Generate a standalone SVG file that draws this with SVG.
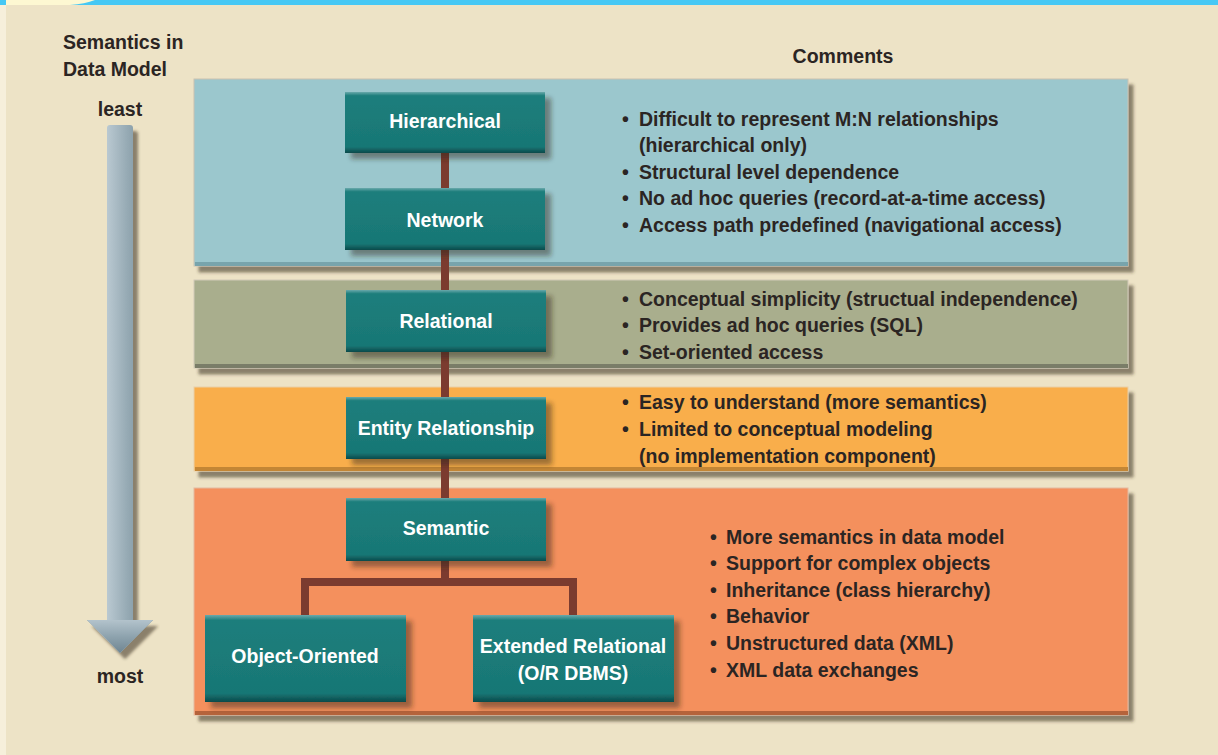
<svg xmlns="http://www.w3.org/2000/svg" width="1218" height="755" viewBox="0 0 1218 755">
  <defs>
    <filter id="shadow" x="-5%" y="-5%" width="115%" height="125%">
      <feDropShadow dx="5" dy="6" stdDeviation="1.8" flood-color="#3a3020" flood-opacity="0.55"/>
    </filter>
    <filter id="nodeShadow" x="-10%" y="-10%" width="125%" height="140%">
      <feDropShadow dx="6" dy="6" stdDeviation="2.5" flood-color="#2a2015" flood-opacity="0.45"/>
    </filter>
    <linearGradient id="nodeFill" x1="0" y1="0" x2="0" y2="1">
      <stop offset="0" stop-color="#6aa9ab"/>
      <stop offset="0.06" stop-color="#1d7e7c"/>
      <stop offset="0.9" stop-color="#187775"/>
      <stop offset="1" stop-color="#0b4a4a"/>
    </linearGradient>
    <linearGradient id="shaft" x1="0" y1="0" x2="1" y2="0">
      <stop offset="0" stop-color="#7d929c"/>
      <stop offset="0.25" stop-color="#c0ced6"/>
      <stop offset="0.6" stop-color="#97abb5"/>
      <stop offset="1" stop-color="#6f8591"/>
    </linearGradient>
    <linearGradient id="head" x1="0" y1="0" x2="0" y2="1">
      <stop offset="0" stop-color="#b3c3cc"/>
      <stop offset="0.5" stop-color="#8ea3ae"/>
      <stop offset="1" stop-color="#6f8591"/>
    </linearGradient>
    <style>
      .lbl { font-family: "Liberation Sans", Arial, sans-serif; font-weight: bold; fill: #2b2523; font-size: 19.5px; }
      .node text { font-family: "Liberation Sans", Arial, sans-serif; font-weight: bold; fill: #ffffff; font-size: 19.5px; text-anchor: middle; }
      .node rect { fill: url(#nodeFill); filter: url(#nodeShadow); }
      .bullets text { font-family: "Liberation Sans", Arial, sans-serif; font-weight: bold; fill: #2b2523; font-size: 19.5px; }
      .link { stroke: #7b3b2f; stroke-width: 8; fill: none; }
    </style>
  </defs>

  <!-- page background and top strip -->
  <rect x="0" y="0" width="1218" height="755" fill="#ede3c6"/>
  <rect x="0" y="0" width="6" height="755" fill="#f6efdb"/>
  <rect x="0" y="0" width="1218" height="5" fill="#46c8f4"/>
  <path d="M6 0 H95 Q85 4 70 5 H6 Z" fill="#fdf8d2"/>

  <!-- axis: semantics arrow -->
  <g id="axis">
    <text class="lbl" x="63" y="49">Semantics in</text>
    <text class="lbl" x="63" y="76">Data Model</text>
    <text class="lbl" x="120" y="116" text-anchor="middle">least</text>
    <g filter="url(#shadow)">
      <path d="M107 128 Q107 125 110 125 H130 Q133 125 133 128 V620 H153 L120 653 L87 620 H107 Z" fill="url(#shaft)"/>
      <path d="M87 620 H153 L120 653 Z" fill="url(#head)"/>
    </g>
    <text class="lbl" x="120" y="683" text-anchor="middle">most</text>
    <text class="lbl" x="843" y="63" text-anchor="middle">Comments</text>
  </g>

  <!-- bands -->
  <g id="band-blue" filter="url(#shadow)">
    <rect x="194" y="79" width="934" height="187" fill="#9bc7cd" stroke="#c9c2b2" stroke-width="1"/>
    <rect x="195" y="262" width="933" height="4" fill="#78a4ac"/>
  </g>
  <g id="band-olive" filter="url(#shadow)">
    <rect x="194" y="280" width="934" height="88" fill="#a9ae8d" stroke="#d2c9b8" stroke-width="1"/>
    <rect x="195" y="364" width="933" height="4" fill="#7a7d67"/>
  </g>
  <g id="band-yellow" filter="url(#shadow)">
    <rect x="194" y="387" width="934" height="84" fill="#f9ae4b" stroke="#e9cfa8" stroke-width="1"/>
    <rect x="195" y="467" width="933" height="4" fill="#c38636"/>
  </g>
  <g id="band-orange" filter="url(#shadow)">
    <rect x="194" y="488" width="934" height="227" fill="#f4905d" stroke="#e4b9a0" stroke-width="1"/>
    <rect x="195" y="711" width="933" height="4" fill="#b5633b"/>
  </g>

  <!-- connectors -->
  <g id="connectors">
    <line class="link" x1="445" y1="150" x2="445" y2="500"/>
    <path class="link" d="M445 561 V582 M305 618 V582 H573 V618"/>
  </g>

  <!-- model nodes -->
  <g id="node-hierarchical" class="node">
    <rect x="345" y="92" width="200" height="61"/>
    <text x="445" y="128">Hierarchical</text>
  </g>
  <g id="node-network" class="node">
    <rect x="345" y="188" width="200" height="62"/>
    <text x="445" y="227">Network</text>
  </g>
  <g id="node-relational" class="node">
    <rect x="346" y="290" width="200" height="62"/>
    <text x="446" y="328">Relational</text>
  </g>
  <g id="node-er" class="node">
    <rect x="346" y="397" width="200" height="62"/>
    <text x="446" y="435">Entity Relationship</text>
  </g>
  <g id="node-semantic" class="node">
    <rect x="346" y="498" width="200" height="63"/>
    <text x="446" y="535">Semantic</text>
  </g>
  <g id="node-oo" class="node">
    <rect x="205" y="615" width="201" height="87"/>
    <text x="305" y="663">Object-Oriented</text>
  </g>
  <g id="node-extended" class="node">
    <rect x="473" y="615" width="201" height="87"/>
    <text x="573" y="653">Extended Relational</text>
    <text x="573" y="680">(O/R DBMS)</text>
  </g>

  <!-- comments -->
  <g id="comments-blue" class="bullets">
    <text x="622" y="126">•</text><text x="639" y="126">Difficult to represent M:N relationships</text>
    <text x="639" y="152">(hierarchical only)</text>
    <text x="622" y="179">•</text><text x="639" y="179">Structural level dependence</text>
    <text x="622" y="205">•</text><text x="639" y="205">No ad hoc queries (record-at-a-time access)</text>
    <text x="622" y="232">•</text><text x="639" y="232">Access path predefined (navigational access)</text>
  </g>
  <g id="comments-olive" class="bullets">
    <text x="622" y="306">•</text><text x="639" y="306">Conceptual simplicity (structual independence)</text>
    <text x="622" y="332">•</text><text x="639" y="332">Provides ad hoc queries (SQL)</text>
    <text x="622" y="359">•</text><text x="639" y="359">Set-oriented access</text>
  </g>
  <g id="comments-yellow" class="bullets">
    <text x="622" y="409">•</text><text x="639" y="409">Easy to understand (more semantics)</text>
    <text x="622" y="436">•</text><text x="639" y="436">Limited to conceptual modeling</text>
    <text x="639" y="463">(no implementation component)</text>
  </g>
  <g id="comments-orange" class="bullets">
    <text x="710" y="544">•</text><text x="726" y="544">More semantics in data model</text>
    <text x="710" y="570">•</text><text x="726" y="570">Support for complex objects</text>
    <text x="710" y="597">•</text><text x="726" y="597">Inheritance (class hierarchy)</text>
    <text x="710" y="623">•</text><text x="726" y="623">Behavior</text>
    <text x="710" y="650">•</text><text x="726" y="650">Unstructured data (XML)</text>
    <text x="710" y="677">•</text><text x="726" y="677">XML data exchanges</text>
  </g>
</svg>
